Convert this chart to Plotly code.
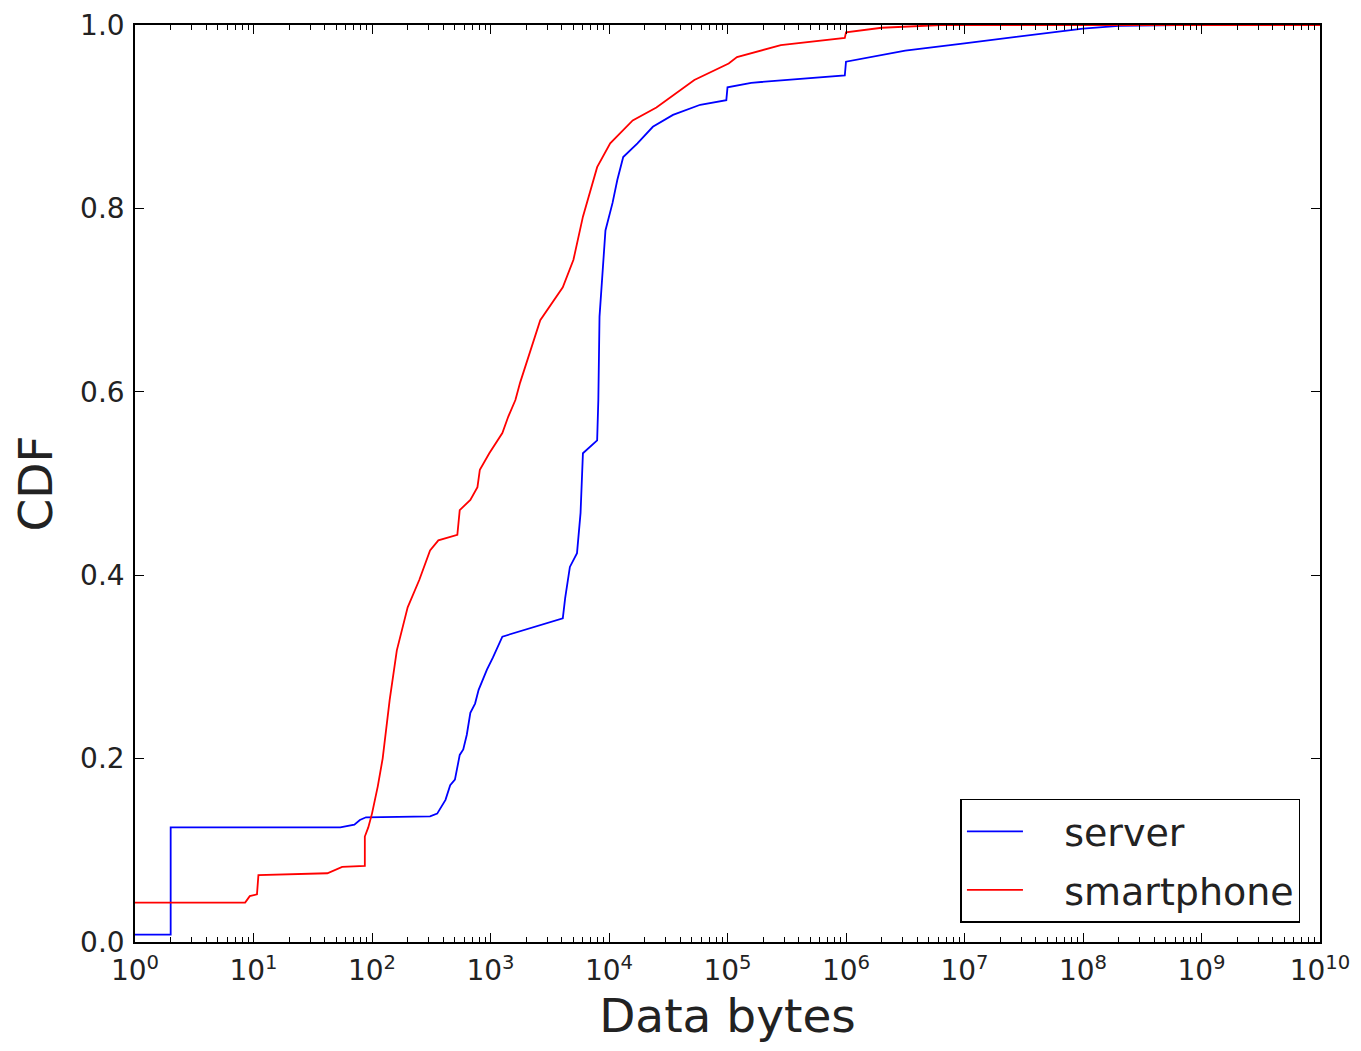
import plotly.graph_objects as go

# ---- data ----
server_bytes = [1, 2, 2, 54, 71, 79, 89, 309, 355, 417, 457, 501, 550, 589, 631, 676, 741, 794,
                933, 1047, 1259, 2239, 4074, 4266, 4677, 5370, 5754, 6026, 7943, 8128, 8318,
                9333, 10715, 11749, 13183, 17378, 23442, 34674, 58884, 97724, 100000, 158489,
                316228, 977237, 1000000, 1584893, 3162278, 1e7, 3.16e7, 1e8, 2e8, 6.3e8, 1e10]
server_cdf = [0.008, 0.008, 0.125, 0.125, 0.128, 0.133, 0.136, 0.137, 0.140, 0.155, 0.171, 0.177,
              0.204, 0.210, 0.226, 0.250, 0.260, 0.275, 0.297, 0.310, 0.333, 0.343, 0.353, 0.375,
              0.409, 0.424, 0.468, 0.533, 0.547, 0.591, 0.682, 0.776, 0.806, 0.831, 0.856, 0.871,
              0.889, 0.902, 0.913, 0.918, 0.932, 0.937, 0.940, 0.945, 0.960, 0.965, 0.972, 0.980,
              0.988, 0.996, 0.999, 1.0, 1.0]

smart_bytes = [1, 8.5, 9.3, 10.7, 11, 42, 56, 87, 87, 93, 100, 112, 123, 132, 141, 162, 200, 251,
               309, 363, 525, 550, 676, 776, 813, 977, 1259, 1413, 1622, 1778, 2630, 4074, 5012,
               6026, 7943, 10233, 15849, 25119, 52481, 102329, 120226, 281838, 977237, 1000000,
               2000000, 6.3e6, 1e10]
smart_cdf = [0.043, 0.043, 0.050, 0.052, 0.073, 0.075, 0.082, 0.083, 0.115, 0.125, 0.140, 0.170,
             0.200, 0.234, 0.264, 0.318, 0.365, 0.395, 0.427, 0.438, 0.444, 0.471, 0.482, 0.496,
             0.515, 0.533, 0.555, 0.573, 0.591, 0.610, 0.678, 0.714, 0.744, 0.791, 0.845, 0.871,
             0.896, 0.910, 0.940, 0.958, 0.965, 0.978, 0.986, 0.992, 0.997, 1.0, 1.0]

series_names = ["server", "smartphone"]
x_tickvals = [1, 10, 100, 1e3, 1e4, 1e5, 1e6, 1e7, 1e8, 1e9, 1e10]
x_ticktext = ["10<sup>%d</sup>" % i for i in range(11)]
y_tickvals = [0.0, 0.2, 0.4, 0.6, 0.8, 1.0]

minor_vals = [m * 10 ** d for d in range(10) for m in range(2, 10)]

FONT = "DejaVu Sans"
PAD = "\u00a0\u00a0\u00a0"

fig = go.Figure()
fig.add_trace(go.Scatter(x=server_bytes, y=server_cdf, mode="lines", name=PAD + series_names[0],
                         legendgroup="a", line=dict(color="#0000ff", width=1.8)))
fig.add_trace(go.Scatter(x=smart_bytes, y=smart_cdf, mode="lines", name=PAD + series_names[1],
                         legendgroup="b", line=dict(color="#ff0000", width=1.8)))

fig.update_layout(
    width=1345, height=1035,
    margin=dict(l=127, r=33, t=17, b=101),
    paper_bgcolor="white", plot_bgcolor="white",
    font=dict(family=FONT, color="black"),
    showlegend=True,
    legend=dict(x=0.9835, y=0.021, xanchor="right", yanchor="bottom",
                bgcolor="white", bordercolor="black", borderwidth=1.5,
                font=dict(size=38, family=FONT, color="#222"), itemwidth=56,
                tracegroupgap=6),
)
fig.update_xaxes(
    type="log", range=[0, 10], automargin=False,
    tickvals=x_tickvals, ticktext=x_ticktext, ticklabelstandoff=3,
    ticks="inside", ticklen=9, tickwidth=1.2, tickcolor="black",
    showline=True, linecolor="black", linewidth=1.5, mirror="allticks",
    showgrid=False, zeroline=False,
    tickfont=dict(size=28, family=FONT, color="#222"),
    title=dict(text="Data bytes", font=dict(size=47, family=FONT, color="#222"), standoff=14),
    minor=dict(tickvals=minor_vals, ticks="inside", ticklen=5, tickcolor="black", showgrid=False),
)
fig.update_yaxes(
    range=[0, 1], tickvals=y_tickvals, tickformat=".1f", automargin=False,
    ticklabelstandoff=3,
    ticks="inside", ticklen=9, tickwidth=1.2, tickcolor="black",
    showline=True, linecolor="black", linewidth=1.5, mirror="allticks",
    showgrid=False, zeroline=False,
    tickfont=dict(size=28, family=FONT, color="#222"),
    title=dict(text="CDF", font=dict(size=47, family=FONT, color="#222"), standoff=14),
)

fig.write_html("out.html")
